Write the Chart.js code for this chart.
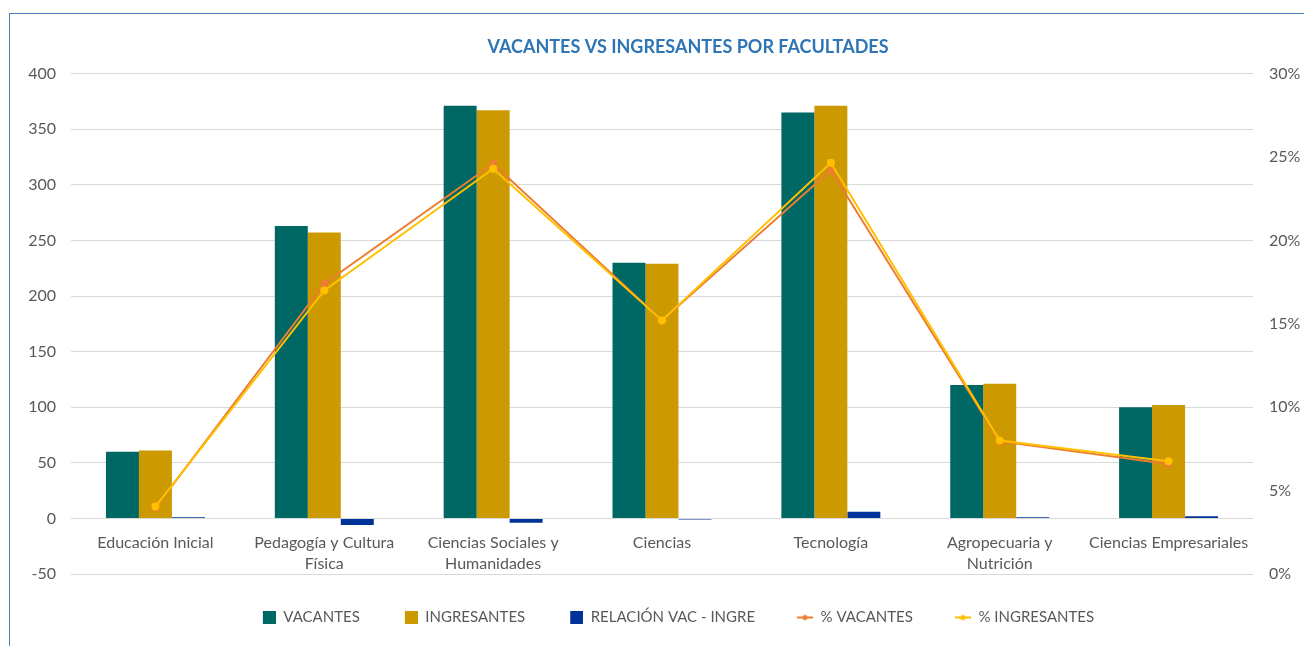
<!DOCTYPE html>
<html>
<head>
<meta charset="utf-8">
<script src="https://cdn.jsdelivr.net/npm/chart.js@4.4.1/dist/chart.umd.min.js"></script>
<style>
  html, body { margin: 0; padding: 0; background: #fff; }
  #frame { position: absolute; left: 9px; top: 13px; right: -5px; bottom: -5px;
           border-top: 1px solid #4A7EBB; border-left: 1px solid #4A7EBB; }
  #wrap { position: absolute; left: 0; top: 0; width: 1304px; height: 646px; }
</style>
</head>
<body>
<div id="frame"></div>
<div id="wrap"><canvas id="chart"></canvas></div>
<script>
'use strict';

const categories = [
    'Educación Inicial',
    ['Pedagogía y Cultura', 'Física'],
    ['Ciencias Sociales y', 'Humanidades'],
    'Ciencias',
    'Tecnología',
    ['Agropecuaria y', 'Nutrición'],
    'Ciencias Empresariales',
];
const vacantes = [60, 263, 371, 230, 365, 120, 100];
const ingresantes = [61, 257, 367, 229, 371, 121, 102];
const relacion = [1, -6, -4, -1, 6, 1, 2];
const pctVacantes = [3.97, 17.4, 24.6, 15.2, 24.2, 7.95, 6.6];
const pctIngresantes = [4.04, 17.0, 24.3, 15.2, 24.65, 8.0, 6.76];

const GRAY = '#595959';
const FONT = 'Lato, "Open Sans", sans-serif';
const MARKER_W = 22;

// legend markers: blank space on the left, then a square or a line with a dot
const squareMarker = (color) => {
    const c = document.createElement('canvas');
    c.width = MARKER_W; c.height = 13;
    const g = c.getContext('2d');
    g.fillStyle = color;
    g.fillRect(MARKER_W - 13, 0, 13, 13);
    return c;
};
const lineMarker = (color) => {
    const c = document.createElement('canvas');
    c.width = MARKER_W; c.height = 8;
    const g = c.getContext('2d');
    g.strokeStyle = color; g.lineWidth = 2;
    g.beginPath(); g.moveTo(MARKER_W - 16, 4); g.lineTo(MARKER_W, 4); g.stroke();
    g.fillStyle = color;
    g.beginPath(); g.arc(MARKER_W - 8, 4, 2.6, 0, Math.PI * 2); g.fill();
    return c;
};

// Excel put the title and legend a bit right of the canvas centre
const shiftBoxes = {
    id: 'shiftBoxes',
    afterLayout(chart) {
        if (chart.titleBlock) { chart.titleBlock.left += 36; chart.titleBlock.right += 36; }
        if (chart.legend) { chart.legend.left += 22; chart.legend.right += 22; }
    },
};

const barCommon = { barPercentage: 1, categoryPercentage: 0.586, order: 3, yAxisID: 'y' };
const lineCommon = { type: 'line', yAxisID: 'y2', borderWidth: 2, pointRadius: 3, pointHoverRadius: 3, tension: 0, fill: false };

const datasets = [
    { ...barCommon, label: 'VACANTES', data: vacantes, backgroundColor: '#006864' },
    { ...barCommon, label: 'INGRESANTES', data: ingresantes, backgroundColor: '#CC9900' },
    { ...barCommon, label: 'RELACIÓN VAC - INGRE', data: relacion, backgroundColor: '#003399' },
    { ...lineCommon, label: '% VACANTES', data: pctVacantes, borderColor: '#ED7D31', backgroundColor: '#ED7D31', order: 2 },
    { ...lineCommon, label: '% INGRESANTES', data: pctIngresantes, borderColor: '#FFC000', backgroundColor: '#FFC000', order: 1 },
];

new Chart(document.getElementById('chart'), {
    type: 'bar',
    data: { labels: categories, datasets },
    plugins: [shiftBoxes],
    options: {
        responsive: true,
        maintainAspectRatio: false,
        animation: false,
        layout: { padding: { left: 0, right: 0, top: 0, bottom: 11 } },
        plugins: {
            tooltip: { enabled: false },
            title: {
                display: true,
                text: 'VACANTES VS INGRESANTES POR FACULTADES',
                color: '#2E75B6',
                font: { family: FONT, size: 18, weight: 'bold' },
                padding: { top: 36, bottom: 16 },
            },
            legend: {
                position: 'bottom',
                labels: {
                    color: GRAY,
                    font: { family: FONT, size: 15 },
                    usePointStyle: true,
                    pointStyleWidth: MARKER_W,
                    padding: 36,
                    sort: (a, b) => a.datasetIndex - b.datasetIndex,
                    generateLabels: (chart) => {
                        const items = Chart.defaults.plugins.legend.labels.generateLabels(chart);
                        items.forEach(item => {
                            const ds = chart.data.datasets[item.datasetIndex];
                            item.pointStyle = ds.type === 'line' ? lineMarker(ds.borderColor) : squareMarker(ds.backgroundColor);
                        });
                        return items;
                    },
                },
            },
        },
        scales: {
            x: {
                position: { y: 0 },
                grid: { display: false, drawTicks: false },
                border: { display: false },
                ticks: { color: GRAY, font: { family: FONT, size: 16, lineHeight: 1.3125 }, padding: 14, maxRotation: 0, autoSkip: false },
            },
            y: {
                position: 'left',
                min: -50,
                max: 400,
                ticks: { stepSize: 50, color: GRAY, font: { family: FONT, size: 16 }, padding: 15 },
                grid: { color: '#D9D9D9', drawTicks: false },
                border: { display: false },
                afterFit: (scale) => { scale.width = 71; },
            },
            y2: {
                position: 'right',
                min: 0,
                max: 30,
                ticks: { stepSize: 5, color: GRAY, font: { family: FONT, size: 16 }, padding: 16, callback: v => v + '%' },
                grid: { display: false, drawTicks: false },
                border: { display: false },
                afterFit: (scale) => { scale.width = 51; },
            },
        },
    },
});
</script>
</body>
</html>
